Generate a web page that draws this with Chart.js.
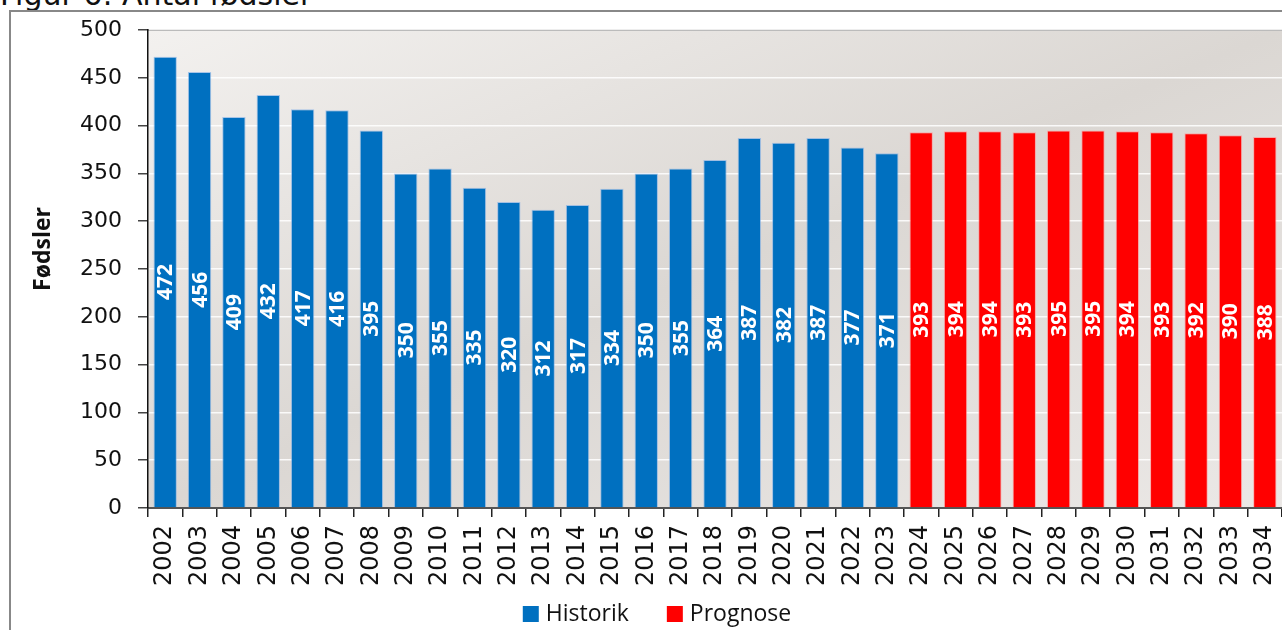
<!DOCTYPE html>
<html>
<head>
<meta charset="utf-8">
<script src="https://cdn.jsdelivr.net/npm/chart.js@4/dist/chart.umd.min.js"></script>
<style>
  html, body { margin: 0; padding: 0; background: #fff; overflow: hidden; }
  #title {
    position: absolute; left: 0; top: -20px;
    font-family: "DejaVu Sans", sans-serif; font-size: 30px; line-height: 30px;
    color: #111; white-space: nowrap;
  }
  #wrap { position: absolute; left: 0; top: 0; width: 1282px; height: 630px; }
</style>
</head>
<body>
<div id="title">Figur 6: Antal fødsler</div>
<div id="wrap"><canvas id="chart" width="1282" height="630"></canvas></div>
<script>
// Data
const years = ["2002","2003","2004","2005","2006","2007","2008","2009","2010","2011","2012","2013","2014","2015","2016","2017","2018","2019","2020","2021","2022","2023","2024","2025","2026","2027","2028","2029","2030","2031","2032","2033","2034"];
const historik = [472,456,409,432,417,416,395,350,355,335,320,312,317,334,350,355,364,387,382,387,377,371];
const prognose = [393,394,394,393,395,395,394,393,392,390,388];
const yTicks = [0,50,100,150,200,250,300,350,400,450,500];
const yTitle = "Fødsler";

const blue = "#0070C0", red = "#FF0000";

// pad the two series so each one lines up with its years
const historikData = years.map((y, i) => i < historik.length ? historik[i] : null);
const prognoseData = years.map((y, i) => i >= historik.length ? prognose[i - historik.length] : null);

// plot background + frame
const backgroundPlugin = {
  id: "plotBackground",
  beforeDraw(chart) {
    const { ctx, chartArea: a } = chart;
    ctx.save();
    ctx.strokeStyle = "#888";
    ctx.lineWidth = 2;
    ctx.beginPath();
    ctx.moveTo(10, 630); ctx.lineTo(10, 11); ctx.lineTo(1282, 11);
    ctx.stroke();
    ctx.translate(a.left, a.top);
    ctx.scale(a.right - a.left, a.bottom - a.top);
    const g = ctx.createLinearGradient(0, 0, 1, 1);
    g.addColorStop(0, "#f3f1ef");
    g.addColorStop(0.5, "#dbd7d3");
    g.addColorStop(1, "#ebe8e6");
    ctx.fillStyle = g;
    ctx.fillRect(0, 0, 1, 1);
    ctx.restore();
    ctx.save();
    ctx.strokeStyle = "#888";
    ctx.lineWidth = 2;
    ctx.beginPath();
    ctx.moveTo(a.left, a.top); ctx.lineTo(a.right, a.top);
    ctx.stroke();
    // axis title, sits a bit above the middle of the axis like the original
    ctx.fillStyle = "#111";
    ctx.font = "bold 23px 'Open Sans'";
    ctx.textAlign = "center";
    ctx.textBaseline = "middle";
    ctx.translate(43, 249);
    ctx.rotate(-Math.PI / 2);
    ctx.fillText(yTitle, 0, 0);
    ctx.restore();
  }
};

// values written inside the bars, turned upright
const barLabelPlugin = {
  id: "barLabels",
  afterDatasetsDraw(chart) {
    const { ctx } = chart;
    ctx.save();
    ctx.fillStyle = "#fff";
    ctx.font = "bold 21px 'Open Sans'";
    ctx.textAlign = "center";
    ctx.textBaseline = "middle";
    chart.data.datasets.forEach((ds, di) => {
      chart.getDatasetMeta(di).data.forEach((bar, i) => {
        const v = ds.data[i];
        if (v === null) return;
        ctx.save();
        ctx.translate(bar.x, (bar.y + bar.base) / 2);
        ctx.rotate(-Math.PI / 2);
        ctx.fillText(String(v), 0, 1);
        ctx.restore();
      });
    });
    ctx.restore();
  }
};

// legend under the axis labels
const legendPlugin = {
  id: "bottomLegend",
  afterDraw(chart) {
    const { ctx } = chart;
    const box = 16, gap = 7, itemGap = 38, cy = 614, cx = 657;
    ctx.save();
    ctx.font = "23px 'Open Sans'";
    ctx.textBaseline = "middle";
    const items = chart.data.datasets.map(ds => ({ text: ds.label, color: ds.backgroundColor, w: ctx.measureText(ds.label).width }));
    let total = 0;
    items.forEach((it, i) => { total += box + gap + it.w + (i > 0 ? itemGap : 0); });
    let x = cx - total / 2;
    items.forEach(it => {
      ctx.fillStyle = it.color;
      ctx.fillRect(x, cy - box / 2, box, box);
      ctx.fillStyle = "#111";
      ctx.fillText(it.text, x + box + gap, cy);
      x += box + gap + it.w + itemGap;
    });
    ctx.restore();
  }
};

new Chart(document.getElementById("chart"), {
  type: "bar",
  data: {
    labels: years,
    datasets: [
      { label: "Historik", data: historikData, backgroundColor: blue, borderColor: "rgba(120,170,230,0.6)", borderWidth: 1 },
      { label: "Prognose", data: prognoseData, backgroundColor: red, borderColor: "rgba(255,150,150,0.7)", borderWidth: 1 }
    ]
  },
  options: {
    responsive: false,
    animation: false,
    events: [],
    layout: { padding: { top: 30, right: 0, bottom: 0, left: 0 } },
    datasets: { bar: { barPercentage: 0.68, categoryPercentage: 1 } },
    plugins: { legend: { display: false }, tooltip: { enabled: false } },
    scales: {
      x: {
        stacked: true,
        offset: true,
        grid: { offset: true, drawOnChartArea: false, tickLength: 9, tickColor: "#222", lineWidth: 1.5 },
        border: { color: "#555", width: 2 },
        ticks: {
          minRotation: 90, maxRotation: 90, padding: 8, autoSkip: false,
          color: "#111", font: { family: "DejaVu Sans", size: 24 }
        },
        afterFit(scale) { scale.height = 122; scale.paddingLeft = 0; scale.paddingRight = 0; }
      },
      y: {
        stacked: true,
        min: 0, max: 500,
        afterBuildTicks(scale) { scale.ticks = yTicks.map(v => ({ value: v })); },
        grid: { color: "rgba(255,255,255,0.85)", lineWidth: 1.5, tickLength: 10, tickColor: "#444" },
        border: { color: "#111", width: 1.5 },
        ticks: { padding: 16, color: "#111", font: { family: "DejaVu Sans", size: 22 } },
        afterFit(scale) { scale.width = 148; }
      }
    }
  },
  plugins: [backgroundPlugin, barLabelPlugin, legendPlugin]
});
</script>
</body>
</html>
